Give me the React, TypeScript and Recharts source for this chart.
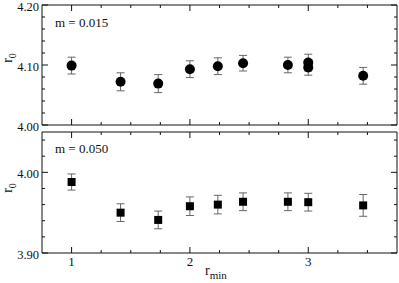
import React from 'react';
import { ScatterChart, Scatter, XAxis, YAxis, ErrorBar } from 'recharts';

// r_min values (sqrt of small integers)
const rminTop = [1, 1.414, 1.732, 2, 2.236, 2.449, 2.828, 3, 3, 3.464];
const r0Top = [4.099, 4.072, 4.069, 4.093, 4.098, 4.103, 4.1, 4.104, 4.096, 4.082];
const errTop = [0.014, 0.015, 0.015, 0.014, 0.014, 0.013, 0.013, 0.014, 0.013, 0.014];

const rminBottom = [1, 1.414, 1.732, 2, 2.236, 2.449, 2.828, 3, 3.464];
const r0Bottom = [3.988, 3.95, 3.941, 3.958, 3.96, 3.9635, 3.9635, 3.963, 3.959];
const errBottom = [0.01, 0.011, 0.011, 0.0115, 0.0115, 0.011, 0.011, 0.011, 0.0135];

const xTicks = [1, 1.25, 1.5, 1.75, 2, 2.25, 2.5, 2.75, 3, 3.25, 3.5];
const xLabels = [1, 2, 3];
const yTicksTop = [4.0, 4.02, 4.04, 4.06, 4.08, 4.1, 4.12, 4.14, 4.16, 4.18, 4.2];
const yLabelsTop = [4.0, 4.1, 4.2];
const yTicksBottom = [3.9, 3.92, 3.94, 3.96, 3.98, 4.0, 4.02, 4.04];
const yLabelsBottom = [3.9, 4.0];

const FONT = '"Liberation Serif", "DejaVu Serif", serif';
const INK = '#111';

const isOn = (list: number[], v: number) => list.some((l) => Math.abs(l - v) < 1e-6);

const XTick = ({ x, y, payload, side, labels }: any) => {
  const major = isOn(xLabels, payload.value);
  const len = major ? 6 : 3;
  const dir = side === 'top' ? 1 : -1;
  return (
    <g>
      <line x1={x} y1={y} x2={x} y2={y + dir * len} stroke={INK} strokeWidth={1} />
      {labels && major && (
        <text x={x} y={y + 13} textAnchor="middle" fontFamily={FONT} fontSize={13} fill={INK}>
          {payload.value}
        </text>
      )}
    </g>
  );
};

const YTick = ({ x, y, payload, side, majors }: any) => {
  const major = isOn(majors, payload.value);
  const len = major ? 6 : 3;
  const dir = side === 'left' ? 1 : -1;
  return (
    <g>
      <line x1={x} y1={y} x2={x + dir * len} y2={y} stroke={INK} strokeWidth={1} />
      {side === 'left' && major && (
        <text x={x - 3} y={y + 6} textAnchor="end" fontFamily={FONT} fontSize={12.5} fill={INK}>
          {payload.value.toFixed(2)}
        </text>
      )}
    </g>
  );
};

const Dot = (props: any) => <circle cx={props.cx} cy={props.cy} r={5} fill="#000" />;
const Square = (props: any) => <rect x={props.cx - 4} y={props.cy - 4} width={8} height={8} fill="#000" />;

const R0Label = ({ cy }: { cy: number }) => (
  <text transform={`translate(12, ${cy}) rotate(-90)`} textAnchor="middle" fontFamily={FONT} fontSize={14} fill={INK}>
    r<tspan fontSize={10} dy={4}>0</tspan>
  </text>
);

const Panel = ({ data, yTicks, yLabels, domain, height, topH, bottomH, showX, shape, tag, top }: any) => (
  <div style={{ position: 'absolute', left: 0, top }}>
    <ScatterChart
      width={399}
      height={height}
      margin={{ top: 0, right: 0, bottom: 0, left: 0 }}
      style={{ overflow: 'visible' }}
    >
      <XAxis
        xAxisId="b"
        type="number"
        dataKey="x"
        domain={[0.75, 3.75]}
        ticks={xTicks}
        interval={0}
        height={bottomH}
        tickSize={0}
        tickMargin={0}
        tickLine={false}
        axisLine={{ stroke: INK }}
        tick={(p: any) => <XTick {...p} side="bottom" labels={showX} />}
        allowDataOverflow
      />
      <XAxis
        xAxisId="t"
        orientation="top"
        type="number"
        dataKey="x"
        domain={[0.75, 3.75]}
        ticks={xTicks}
        interval={0}
        height={topH}
        tickSize={0}
        tickMargin={0}
        tickLine={false}
        axisLine={{ stroke: INK }}
        tick={(p: any) => <XTick {...p} side="top" labels={false} />}
        allowDataOverflow
      />
      <YAxis
        yAxisId="l"
        type="number"
        dataKey="y"
        domain={domain}
        ticks={yTicks}
        interval={0}
        width={42}
        tickSize={0}
        tickMargin={0}
        tickLine={false}
        axisLine={{ stroke: INK }}
        tick={(p: any) => <YTick {...p} side="left" majors={yLabels} />}
        allowDataOverflow
      />
      <YAxis
        yAxisId="r"
        orientation="right"
        type="number"
        dataKey="y"
        domain={domain}
        ticks={yTicks}
        interval={0}
        width={2}
        tickSize={0}
        tickMargin={0}
        tickLine={false}
        axisLine={{ stroke: INK }}
        tick={(p: any) => <YTick {...p} side="right" majors={yLabels} />}
        allowDataOverflow
      />
      <Scatter data={data} xAxisId="b" yAxisId="l" shape={shape} isAnimationActive={false}>
        <ErrorBar dataKey="err" direction="y" width={4} stroke="#666" strokeWidth={1} isAnimationActive={false} />
      </Scatter>
      <text x={55} y={tag.y} fontFamily={FONT} fontSize={13} fill={INK}>
        {tag.text}
      </text>
    </ScatterChart>
  </div>
);

export default function App() {
  const top = rminTop.map((x, i) => ({ x, y: r0Top[i], err: errTop[i] }));
  const bottom = rminBottom.map((x, i) => ({ x, y: r0Bottom[i], err: errBottom[i] }));
  return (
    <div style={{ position: 'absolute', left: 0, top: 0, width: 399, height: 283, background: '#fff', overflow: 'hidden' }}>
      <Panel
        data={top}
        yTicks={yTicksTop}
        yLabels={yLabelsTop}
        domain={[4.0, 4.2]}
        height={140}
        topH={10}
        bottomH={10}
        showX={false}
        shape={Dot}
        tag={{ text: 'm = 0.015', y: 32 }}
        top={-5}
      />
      <Panel
        data={bottom}
        yTicks={yTicksBottom}
        yLabels={yLabelsBottom}
        domain={[3.9, 4.05]}
        height={156}
        topH={5}
        bottomH={30}
        showX={true}
        shape={Square}
        tag={{ text: 'm = 0.050', y: 26 }}
        top={127}
      />
      <svg width={399} height={283} style={{ position: 'absolute', left: 0, top: 0, pointerEvents: 'none' }}>
        <R0Label cy={58} />
        <R0Label cy={188} />
        <text x={205} y={275} fontFamily={FONT} fontSize={14} fill={INK}>
          r<tspan fontSize={11} dy={4}>min</tspan>
        </text>
      </svg>
    </div>
  );
}
